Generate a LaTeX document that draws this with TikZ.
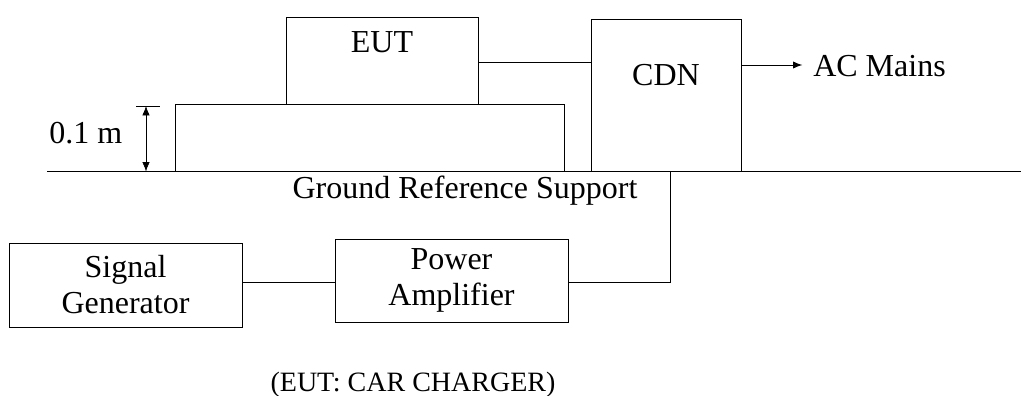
\documentclass[tikz,border=0pt]{standalone}
\usepackage{fontspec}
\setmainfont{Liberation Serif}
\usetikzlibrary{arrows.meta}
\begin{document}
\begin{tikzpicture}[x=0.75pt,y=-0.75pt,
  every node/.style={font=\fontsize{24pt}{27pt}\selectfont},
  box/.style={draw, line width=0.75pt, inner sep=0pt, align=center},
  lbl/.style={inner sep=0pt},
  wire/.style={line width=0.75pt},
  tip/.style={-{Latex[length=7pt,width=5.5pt]}}]
\useasboundingbox (0,0) rectangle (1021,396);
% boxes
\node[box, minimum width=144pt, minimum height=65.25pt] (eut) at (382,60.5) {};
\node[lbl, anchor=base] (eutlbl) at (382,52) {EUT};
\node[box, minimum width=112.5pt, minimum height=114pt] (cdn) at (666,95) {};
\node[lbl, anchor=base] (cdnlbl) at (666,85) {CDN};
\node[box, minimum width=174.75pt, minimum height=63pt] (sg) at (125.5,285) {Signal\\Generator};
\node[box, minimum width=174.75pt, minimum height=62.25pt] (pa) at (451.5,280.5) {Power\\Amplifier};
% support table and ground
\coordinate (tl) at (175,104);
\coordinate (tr) at (564,104);
\coordinate (gl) at (47,171.5);
\coordinate (gr) at (1021,171.5);
\draw[wire] (tl |- gl) -- (tl) -- (tr) -- (tr |- gl);
\draw[wire] (gl) -- (gr);
\node[lbl, anchor=base] (grs) at (465,198) {Ground Reference Support};
% dimension
\coordinate (dtop) at (146,106);
\coordinate (tick1) at (136,106);
\coordinate (tick2) at (160,106);
\draw[wire] (tick1) -- (tick2);
\draw[line width=0.5pt, {Latex[length=7pt,width=5.5pt]}-{Latex[length=7pt,width=5.5pt]}] (dtop) -- (dtop |- gl);
\node[lbl, anchor=base west] (dim) at (49,143) {0.1 m};
% AC mains
\node[lbl, anchor=base west] (ac) at (813,76) {AC Mains};
\coordinate (acy) at (0,65);
\draw[wire, tip] (cdn.east |- acy) -- ([xshift=-8pt]ac.west |- acy);
% EUT to CDN
\coordinate (ey) at (0,62);
\draw[wire] (eut.east |- ey) -- (cdn.west |- ey);
% signal chain
\coordinate (sy) at (0,282);
\coordinate (vx) at (670,0);
\draw[wire] (sg.east |- sy) -- (pa.west |- sy);
\draw[wire] (vx |- cdn.south) -- (vx |- sy) -- (pa.east |- sy);
% caption
\node[lbl, anchor=base, font=\fontsize{21pt}{24pt}\selectfont] (cap) at (413,391) {(EUT: CAR CHARGER)};
\end{tikzpicture}
\end{document}
